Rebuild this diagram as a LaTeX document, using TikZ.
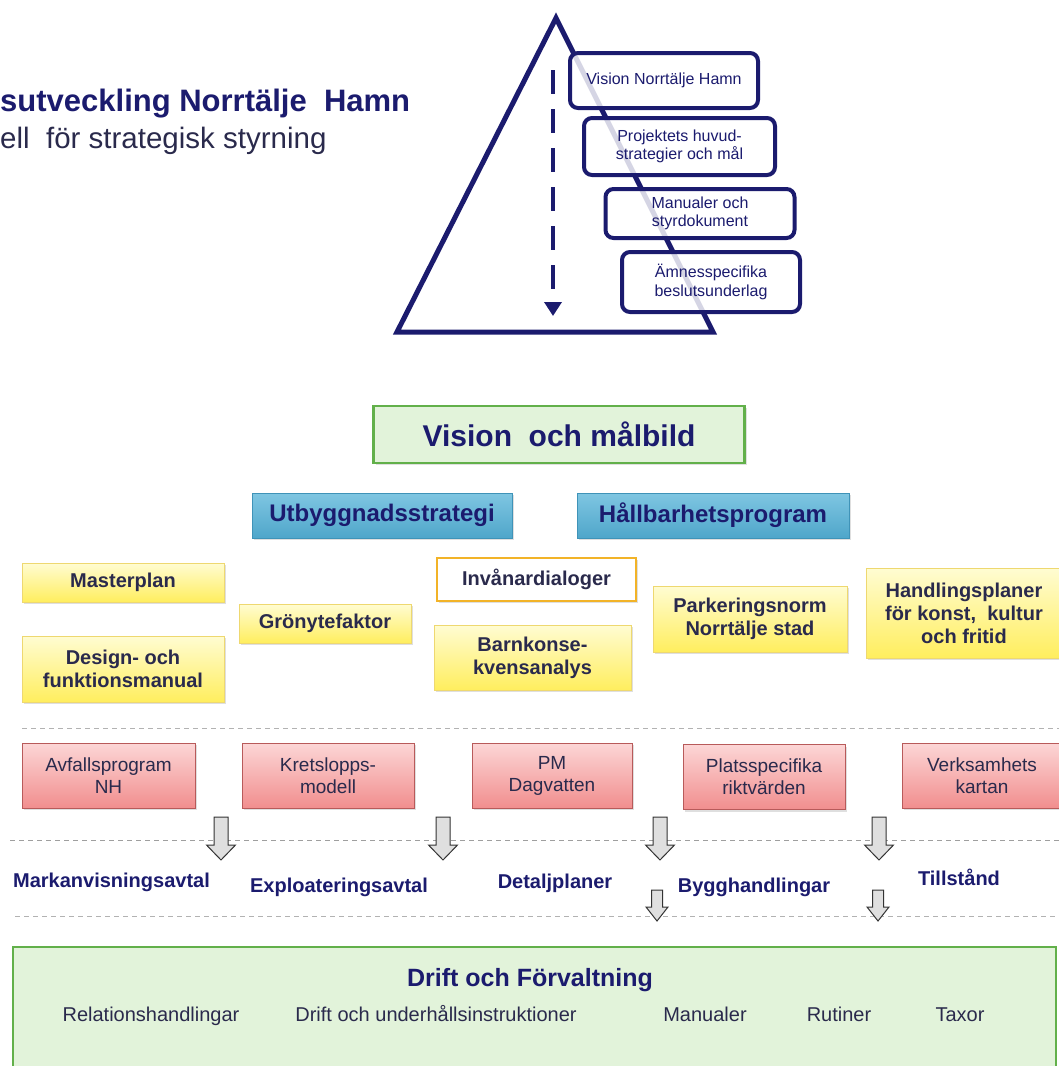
\documentclass[tikz,border=0pt]{standalone}
\usepackage{fontspec}
\setmainfont{Liberation Sans}
\usetikzlibrary{arrows.meta,shadows}
\definecolor{nhnavy}{HTML}{1B1B6E}
\definecolor{nhtext}{HTML}{2A2A4C}
\definecolor{nhgreen}{HTML}{62B04A}
\definecolor{nhgreenfill}{HTML}{E2F3DA}
\definecolor{nhblue}{HTML}{3F93B8}
\definecolor{nhyellow}{HTML}{EED870}
\definecolor{nhorange}{HTML}{F2B328}
\definecolor{nhred}{HTML}{B85A5A}
\definecolor{nhbluetop}{HTML}{7FC6E2}
\definecolor{nhbluebot}{HTML}{4FA6CA}
\definecolor{nhyellowtop}{HTML}{FFFCD2}
\definecolor{nhyellowbot}{HTML}{FFEE5E}
\definecolor{nhredtop}{HTML}{FCD6D6}
\definecolor{nhredbot}{HTML}{F18E8E}
\newcommand{\fs}[1]{\fontsize{#1}{1.15\dimexpr#1pt\relax}\selectfont}

\begin{document}
\begin{tikzpicture}[x=1pt,y=-1pt,
 pyrbox/.style={draw=nhnavy,line width=4pt,rounded corners=8pt,fill=white,fill opacity=.82,text opacity=1,
   text=nhnavy,align=center,inner sep=0pt,font=\fs{16}},
 boxshadow/.style={drop shadow={opacity=.25,shadow xshift=2pt,shadow yshift=-2pt}},
 visionbox/.style={draw=nhgreen,line width=2.5pt,fill=nhgreenfill,boxshadow,text=nhnavy,font=\bfseries\fs{30},inner sep=0pt},
 bluebox/.style={draw=nhblue,line width=1pt,top color=nhbluetop,bottom color=nhbluebot,boxshadow,
   text=nhnavy,font=\bfseries\fs{24},inner sep=0pt},
 yellowbox/.style={draw=nhyellow,line width=1pt,top color=nhyellowtop,bottom color=nhyellowbot,boxshadow,
   text=nhtext,font=\bfseries\fs{20},align=center,inner sep=0pt},
 whitebox/.style={draw=nhorange,line width=2pt,fill=white,boxshadow,text=nhtext,font=\bfseries\fs{20},inner sep=0pt},
 redbox/.style={draw=nhred,line width=1pt,top color=nhredtop,bottom color=nhredbot,boxshadow,
   text=nhtext,font=\fs{19},align=center,inner sep=0pt},
 steplabel/.style={anchor=base,text=nhnavy,font=\bfseries\fs{20}},
 driftitem/.style={anchor=base,text=nhtext,font=\fs{20}},
 sepline/.style={gray!60,line width=1pt,dash pattern=on 5pt off 4pt},
 blockarrow/.style={draw=gray!40!black,line width=1pt,fill=gray!25}]
\useasboundingbox (0,0) rectangle (1059,1066);

% title
\node[anchor=base west,text=nhnavy,font=\bfseries\fs{31},inner sep=0pt] (title) at (0,111) {sutveckling Norrtälje\ \ Hamn};
\node[anchor=base west,text=nhtext,font=\fs{29.5},inner sep=0pt] (subtitle) at (0,148) {ell\ \ för strategisk styrning};

% pyramid
\draw[nhnavy,line width=5pt] (556,18) -- (713,332) -- (397,332) -- cycle;
\coordinate (pyrtop) at (553,70);
\coordinate (pyrbot) at (553,316);
\draw[nhnavy,line width=4.5pt,dash pattern=on 24pt off 15pt,-{Triangle[width=17pt,length=14pt]}] (pyrtop) -- (pyrbot);
\node[pyrbox,minimum width=188pt,minimum height=55pt] (pv1) at (664,80.5) {Vision Norrtälje Hamn};
\node[pyrbox,minimum width=191pt,minimum height=57pt] (pv2) at (679.5,146.5) {Projektets huvud-\\strategier och mål};
\node[pyrbox,minimum width=189pt,minimum height=49pt] (pv3) at (700,213.5) {Manualer och\\styrdokument};
\node[pyrbox,minimum width=178pt,minimum height=60pt] (pv4) at (711,282) {Ämnesspecifika\\beslutsunderlag};

% vision and strategies
\node[visionbox,minimum width=371pt,minimum height=57pt] (vision) at (559,434.5) {Vision\ \ och målbild};
\node[bluebox,minimum width=260pt,minimum height=45pt] (utbygg) at (382,515.5) {Utbyggnadsstrategi};
\node[bluebox,minimum width=272pt,minimum height=45pt] (hallbar) at (713,515.5) {Hållbarhetsprogram};

% programmes
\node[yellowbox,minimum width=202pt,minimum height=39pt] (master) at (123,582.5) {Masterplan};
\node[yellowbox,minimum width=202pt,minimum height=66pt] (design) at (123,669) {Design- och\\funktionsmanual};
\node[yellowbox,minimum width=172pt,minimum height=39pt] (gron) at (325,623.5) {Grönytefaktor};
\node[whitebox,minimum width=199pt,minimum height=43pt] (invanar) at (536.5,579.5) {Invånardialoger};
\node[yellowbox,minimum width=197pt,minimum height=65pt] (barn) at (532.5,657.5) {Barnkonse-\\kvensanalys};
\node[yellowbox,minimum width=194pt,minimum height=66pt] (parkering) at (750,619) {Parkeringsnorm\\Norrtälje stad};
\node[yellowbox,minimum width=196pt,minimum height=90pt] (handling) at (964,613) {Handlingsplaner\\för konst,\ \ kultur\\och fritid};

\draw[sepline] (22,728) -- (1059,728);

% environment documents
\node[redbox,minimum width=173pt,minimum height=65pt] (avfall) at (108.5,775.5) {Avfallsprogram\\NH};
\node[redbox,minimum width=172pt,minimum height=65pt] (krets) at (328,775.5) {Kretslopps-\\modell};
\node[redbox,minimum width=160pt,minimum height=65pt] (dagvatten) at (552,775.5) {PM\\Dagvatten};
\node[redbox,minimum width=162pt,minimum height=65pt] (plats) at (764,777) {Platsspecifika\\riktvärden};
\node[redbox,minimum width=160pt,minimum height=65pt] (verksamhet) at (982,775.5) {Verksamhets\\kartan};

\draw[sepline,gray!75] (10,840) -- (1059,840);
\draw[sepline] (15,916) -- (1059,916);

% block arrows
\foreach \ax in {221,443,660,879}
  \draw[blockarrow] (\ax-7,817) -- (\ax+7,817) -- (\ax+7,845) -- (\ax+14.5,845) -- (\ax,860)
    -- (\ax-14.5,845) -- (\ax-7,845) -- cycle;
\foreach \ax in {657,878}
  \draw[blockarrow] (\ax-5.5,890) -- (\ax+5.5,890) -- (\ax+5.5,907) -- (\ax+11,907) -- (\ax,921)
    -- (\ax-11,907) -- (\ax-5.5,907) -- cycle;

% agreements and permits
\node[steplabel] (markanv) at (111.5,887) {Markanvisningsavtal};
\node[steplabel] (exploat) at (339,892) {Exploateringsavtal};
\node[steplabel] (detalj) at (555,888) {Detaljplaner};
\node[steplabel] (bygg) at (754,892) {Bygghandlingar};
\node[steplabel] (tillstand) at (959,885) {Tillstånd};

% operation
\node[draw=nhgreen,line width=2.5pt,fill=nhgreenfill,minimum width=1043pt,minimum height=130pt,inner sep=0pt] (drift) at (534.5,1012) {};
\node[anchor=base,text=nhnavy,font=\bfseries\fs{25}] (drifttitle) at (530,986) {Drift och Förvaltning};
\node[driftitem] (relation) at (151,1021) {Relationshandlingar};
\node[driftitem] (underhall) at (436,1021) {Drift och underhållsinstruktioner};
\node[driftitem] (manualer) at (705,1021) {Manualer};
\node[driftitem] (rutiner) at (839,1021) {Rutiner};
\node[driftitem] (taxor) at (960,1021) {Taxor};
\end{tikzpicture}
\end{document}
